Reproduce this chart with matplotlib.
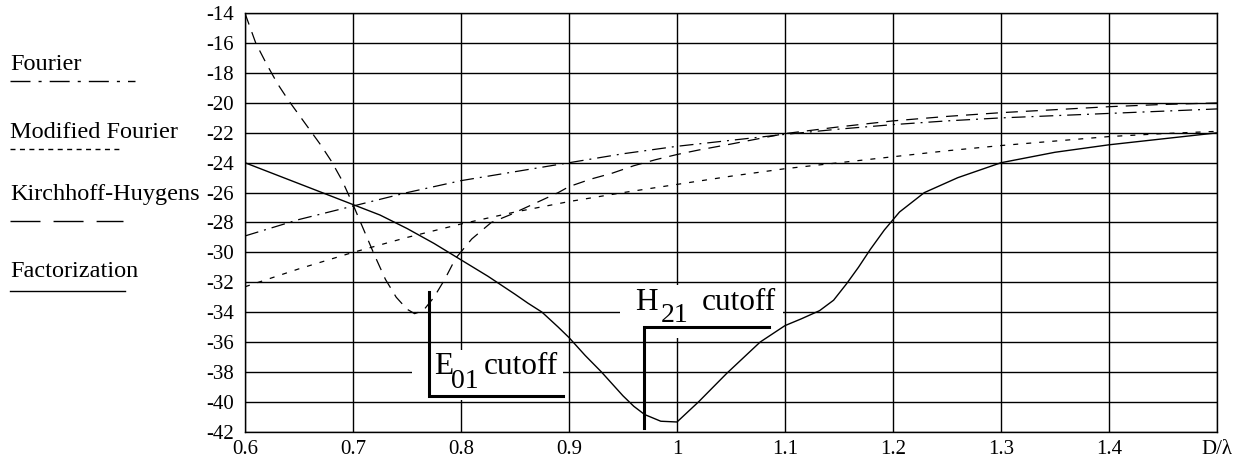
import matplotlib.pyplot as plt
from matplotlib.lines import Line2D
from matplotlib.patches import Rectangle

plt.rcParams['font.family'] = ['Liberation Serif', 'DejaVu Serif']
plt.rcParams['lines.scale_dashes'] = False

# Data
x_fact = [0.6, 0.65, 0.7, 0.725, 0.75, 0.775, 0.8, 0.825, 0.85, 0.862, 0.875, 0.89, 0.9,
          0.915, 0.93, 0.95, 0.96, 0.97, 0.985, 1.0, 1.02, 1.046, 1.077, 1.1, 1.115, 1.132,
          1.145, 1.157, 1.168, 1.179, 1.192, 1.206, 1.229, 1.26, 1.3, 1.35, 1.4, 1.45, 1.5]
y_fact = [-24.0, -25.4, -26.8, -27.5, -28.4, -29.4, -30.5, -31.6, -32.8, -33.4, -34.0,
          -35.0, -35.7, -36.9, -38.0, -39.6, -40.3, -40.85, -41.3, -41.35, -40.0, -38.1,
          -36.0, -34.9, -34.45, -33.9, -33.2, -32.1, -31.0, -29.8, -28.5, -27.3, -26.0,
          -25.0, -24.0, -23.3, -22.8, -22.4, -22.0]

x_kh = [0.6, 0.61, 0.62, 0.63, 0.64, 0.65, 0.66, 0.67, 0.68, 0.69, 0.70, 0.71, 0.72, 0.73,
        0.74, 0.75, 0.757, 0.765, 0.775, 0.785, 0.795, 0.81, 0.828, 0.845, 0.86, 0.875,
        0.89, 0.9, 0.92, 0.94, 0.96, 0.98, 1.0, 1.02, 1.05, 1.075, 1.1, 1.15, 1.2, 1.25,
        1.3, 1.35, 1.4, 1.45, 1.5]
y_kh = [-14.0, -16.0, -17.4, -18.7, -19.8, -20.8, -21.8, -22.8, -23.9, -25.2, -26.8, -28.5,
        -30.2, -31.8, -33.0, -33.8, -34.1, -33.9, -33.0, -31.8, -30.4, -29.1, -28.0,
        -27.5, -27.0, -26.5, -26.0, -25.6, -25.1, -24.7, -24.2, -23.8, -23.45, -23.15,
        -22.75, -22.4, -22.05, -21.6, -21.2, -20.9, -20.65, -20.45, -20.25, -20.1, -20.0]

x_four = [0.6, 0.65, 0.7, 0.75, 0.8, 0.85, 0.9, 0.95, 1.0, 1.05, 1.1, 1.15, 1.2, 1.25, 1.3,
          1.35, 1.4, 1.45, 1.5]
y_four = [-28.9, -27.8, -26.9, -26.0, -25.2, -24.6, -24.0, -23.4, -22.9, -22.5, -22.1,
          -21.75, -21.45, -21.2, -21.0, -20.85, -20.7, -20.55, -20.4]
y_mod = [-32.3, -31.1, -30.0, -29.0, -28.1, -27.3, -26.6, -26.0, -25.45, -24.9, -24.4,
         -24.0, -23.6, -23.2, -22.85, -22.55, -22.25, -22.05, -21.9]

x_ticks = [0.6, 0.7, 0.8, 0.9, 1.0, 1.1, 1.2, 1.3, 1.4, 1.5]
x_labels = ['0.6', '0.7', '0.8', '0.9', '1', '1.1', '1.2', '1.3', '1.4', 'D/\u03bb']
y_ticks = list(range(-42, -13, 2))

W, H = 1242, 466
fig = plt.figure(figsize=(W / 100, H / 100), dpi=100)
ax = fig.add_axes([245 / W, 1 - 431.7 / H, 972 / W, 418.4 / H])

ax.plot(x_four, y_four, color='black', lw=0.9, ls=(0, (10, 4.3, 1.4, 4.3)), zorder=3)
ax.plot(x_four, y_mod, color='black', lw=0.9, ls=(0, (3.6, 5.8)), zorder=3)
ax.plot(x_kh, y_kh, color='black', lw=0.9, ls=(0, (8.6, 5.8)), zorder=3)
ax.plot(x_fact, y_fact, color='black', lw=1.0, zorder=3)

ax.set_xlim(0.6, 1.5)
ax.set_ylim(-42, -14)
ax.set_xticks(x_ticks)
ax.set_xticklabels(x_labels)
ax.set_yticks(y_ticks)
ax.set_yticklabels([str(v) for v in y_ticks])
ax.tick_params(length=0, labelsize=15)
ax.tick_params(axis='x', pad=6)
ax.tick_params(axis='y', pad=8)
ax.set_axisbelow(True)
ax.grid(True, color='black', lw=1.0)
for s in ax.spines.values():
    s.set_linewidth(1.0)

# white boxes behind the cutoff labels
ax.add_patch(Rectangle((0.755, -39.9), 0.139, 3.4, facecolor='white', edgecolor='none', zorder=1))
ax.add_patch(Rectangle((0.947, -35.7), 0.151, 3.5, facecolor='white', edgecolor='none', zorder=1))

# brackets
ax.plot([0.770, 0.770, 0.894], [-32.65, -39.6, -39.6], color='black', lw=2.2, zorder=4,
        solid_joinstyle='miter')
ax.plot([0.969, 0.969, 1.085], [-41.74, -35.0, -35.0], color='black', lw=2.2, zorder=4,
        solid_joinstyle='miter')

ax.text(0.775, -38.14, 'E', fontsize=22.5, va='baseline', zorder=5)
ax.text(0.791, -39.07, '01', fontsize=20, va='baseline', zorder=5)
ax.text(0.821, -38.14, 'cutoff', fontsize=22.5, va='baseline', zorder=5)
ax.text(0.961, -33.86, 'H', fontsize=22.5, va='baseline', zorder=5)
ax.text(0.985, -34.64, '21', fontsize=20, va='baseline', zorder=5)
ax.text(1.023, -33.86, 'cutoff', fontsize=22.5, va='baseline', zorder=5)

# legend on the left
legend = [('Fourier', 70, 81, 135, (0, (14.4, 5.8, 2.2, 5.8))),
          ('Modified Fourier', 138, 149, 123, (0, (3.6, 3.2))),
          ('Kirchhoff-Huygens', 200, 221, 123, (0, (21.6, 9.4))),
          ('Factorization', 277, 291, 125, '-')]
for name, ty, ly, xe, style in legend:
    fig.text(10 / W, 1 - ty / H, name, fontsize=17.5, va='baseline', ha='left')
    fig.add_artist(Line2D([10 / W, xe / W], [1 - ly / H, 1 - ly / H], color='black',
                          lw=1.0, ls=style))

fig.savefig('out.png', dpi=100)
